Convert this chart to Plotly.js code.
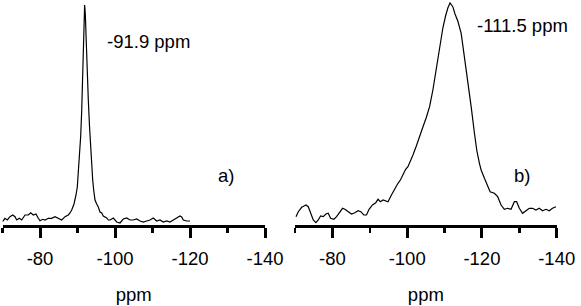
<!DOCTYPE html>
<html>
<head>
<meta charset="utf-8">
<script src="https://cdn.plot.ly/plotly-3.0.1.min.js"></script>
<style>html,body{margin:0;padding:0;background:#fff;}#chart{width:581px;height:306px;}</style>
</head>
<body>
<div id="chart"></div>
<script>
// Panel a) spectrum, peak at -91.9 ppm
const aPpm = [-70.0,-70.67,-71.28,-72.0,-72.72,-73.33,-73.79,-74.48,-75.12,-76.0,-76.88,-77.52,-78.21,-78.93,-79.55,-80.0,-80.72,-81.33,-82.21,-83.12,-84.0,-84.88,-85.79,-86.67,-87.55,-87.99,-88.45,-89.07,-89.33,-89.6,-89.95,-90.27,-90.53,-90.85,-91.12,-91.39,-91.6,-91.79,-91.9,-92.08,-92.27,-92.48,-92.67,-92.88,-93.2,-93.52,-93.79,-94.05,-94.35,-94.67,-95.12,-95.55,-96.0,-96.45,-96.88,-97.33,-97.79,-98.21,-98.67,-99.55,-100.45,-101.33,-102.21,-103.12,-104.0,-104.88,-105.79,-106.67,-107.55,-108.45,-109.33,-110.21,-111.12,-112.0,-112.88,-113.79,-114.67,-115.55,-116.45,-117.33,-117.79,-118.21,-119.12,-120.0];
const aInt = [4.3,7.7,6,9.3,11,9.3,6,7.7,6,11,11,13.3,11,12,7.7,5.3,6.7,6,7.7,7.7,9.3,7.7,6,9.3,11,13,16,22,26,31,39,55,70,90,115,145,180,210,221,212,185,160,140,126,100,76,60,46,35,26,22,19,14,13,10,9,8,6,6,8,4,3,7,8,6,6,7,5,4,5,6,8,5,6,4,5,4,6,8,10,9,6,5,5];
// Panel b) spectrum, peak at -111.5 ppm
const bPpm = [-70.27,-70.88,-71.79,-72.93,-73.55,-74.19,-74.88,-75.6,-76.21,-76.85,-77.55,-78.27,-78.88,-79.52,-80.4,-81.12,-82.0,-82.72,-83.33,-84.21,-85.12,-86.0,-86.88,-87.6,-88.4,-89.12,-89.81,-90.72,-91.6,-92.21,-92.85,-93.55,-94.27,-94.88,-95.79,-96.67,-97.55,-98.19,-98.88,-99.6,-100.21,-100.85,-101.55,-102.45,-103.33,-104.21,-105.12,-106.0,-106.88,-107.79,-108.67,-109.55,-110.27,-110.88,-111.47,-112.21,-112.8,-113.55,-114.45,-115.33,-116.21,-117.12,-118.0,-118.61,-119.33,-119.79,-120.67,-121.55,-122.19,-123.33,-124.21,-125.12,-126.0,-126.88,-127.79,-128.67,-129.28,-130.0,-130.88,-131.79,-132.67,-133.55,-134.45,-135.33,-136.21,-137.12,-138.0,-138.88,-139.79];
const bInt = [9.3,14.3,18.7,21,19.3,12.7,6,3.3,6,10,9.3,12,12.7,7.7,6.7,9.3,14.3,17.7,16.7,14.3,12,13.3,15.3,14.3,11,11,16.7,21,23.3,26.7,24.3,26,25.3,24.3,31,37.7,42.7,46,51,56.7,59.3,64.3,71,80,88.5,99,108.5,119.3,136,157.3,180,198,210,218,223,219.3,212,205,192.7,169.3,146,119.3,92.7,76,62.7,56,47.7,39.3,34.3,32.7,29.3,21,16.7,17.7,16.7,24.3,24.3,17.7,12.7,15.3,17.7,17.7,16,17.7,15.3,16.7,15.3,17.7,19.3];

const majorTicks = [-80,-100,-120,-140];
const minorTicks = [-70,-90,-110,-130];
const tickText = ['-80','-100','-120','-140'];
const peakLabels = ['-91.9 ppm','-111.5 ppm'];
const panelLabels = ['a)','b)'];

const W = 581, H = 306;
const FONT = 'Arial, "Liberation Sans", sans-serif';
const px = v => v / W;
const py = v => (226 - v) / 225;

function xAxis(domain, anchor){
  return {
    domain: domain, anchor: anchor,
    range: [-70,-140], autorange: false,
    showgrid: false, zeroline: false,
    showline: true, linewidth: 3, linecolor: '#000',
    ticks: 'outside', ticklen: 10, tickwidth: 3, tickcolor: '#000',
    tickmode: 'array', tickvals: majorTicks, ticktext: tickText,
    ticklabelstandoff: 5,
    tickfont: {family: FONT, size: 18.5, color: '#000'},
    minor: {tickmode: 'array', tickvals: minorTicks, ticks: 'outside', ticklen: 5, tickwidth: 2.5, tickcolor: '#000', showgrid: false},
    title: {text: 'ppm', font: {family: FONT, size: 18.5, color: '#000'}, standoff: 20},
    automargin: false, fixedrange: true
  };
}
function yAxis(anchor){
  return {anchor: anchor, range: [1,226], autorange: false, visible: false, showgrid: false, zeroline: false, fixedrange: true};
}

const traces = [
  {x: aPpm, y: aInt, xaxis: 'x', yaxis: 'y', type: 'scatter', mode: 'lines', line: {color: '#000', width: 1.2}, hoverinfo: 'skip'},
  {x: bPpm, y: bInt, xaxis: 'x2', yaxis: 'y2', type: 'scatter', mode: 'lines', line: {color: '#000', width: 1.2}, hoverinfo: 'skip'}
];

const ann = (text, x, y, xanchor) => ({text: text, xref: 'paper', yref: 'paper', x: x, y: y, xanchor: xanchor, yanchor: 'middle', showarrow: false, font: {family: FONT, size: 18.5, color: '#000'}});

const layout = {
  width: W, height: H,
  margin: {l: 0, r: 0, t: 0, b: 81, pad: 0},
  paper_bgcolor: '#fff', plot_bgcolor: '#fff',
  showlegend: false,
  xaxis: xAxis([px(2.5), px(265)], 'y'),
  yaxis: yAxis('x'),
  xaxis2: xAxis([px(295), px(556.7)], 'y2'),
  yaxis2: yAxis('x2'),
  annotations: [
    ann(peakLabels[0], px(105), py(43), 'left'),
    ann(peakLabels[1], px(475), py(26), 'left'),
    ann(panelLabels[0], px(226), py(176), 'center'),
    ann(panelLabels[1], px(521.7), py(176), 'center')
  ]
};

Plotly.newPlot('chart', traces, layout, {staticPlot: true, displayModeBar: false});
</script>
</body>
</html>
